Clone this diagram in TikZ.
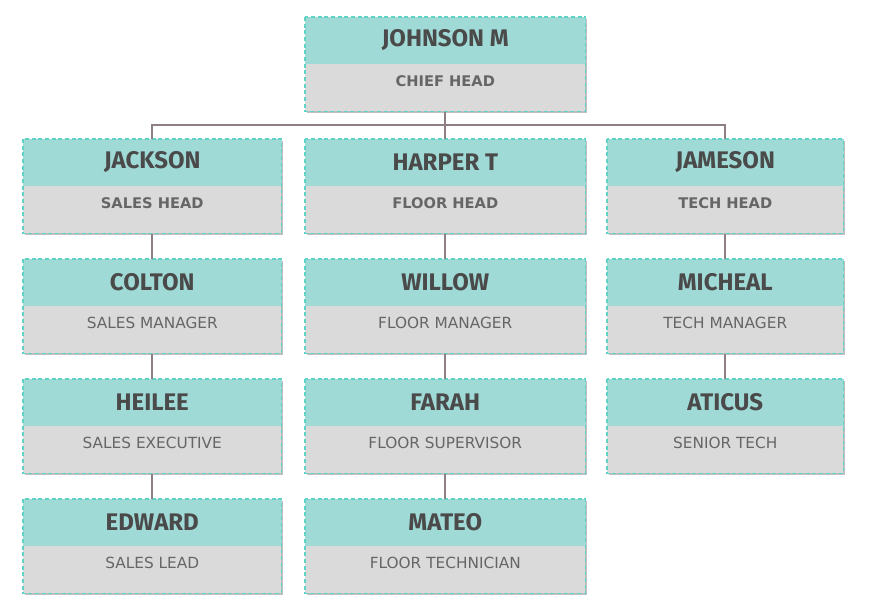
\documentclass[tikz,border=0pt]{standalone}
\usetikzlibrary{shadows,calc}
\usepackage{fontspec}
\setmainfont{Fira Sans}
\newfontfamily\rolefont{DejaVu Sans}
\definecolor{teal1}{HTML}{A0DAD6}
\definecolor{edge}{HTML}{5FD3C6}
\definecolor{grayf}{HTML}{DADADA}
\definecolor{txt}{HTML}{4A4A4A}
\definecolor{rtxt}{HTML}{666666}
\definecolor{conn}{HTML}{8E7F84}
\begin{document}
\begin{tikzpicture}[x=0.75pt,y=-0.75pt,
  box/.style={fill=grayf,inner sep=0pt,anchor=north west,
    drop shadow={shadow xshift=1.5pt,shadow yshift=-1.5pt,opacity=0.5}},
  nm/.style={font=\bfseries\fontsize{18}{20}\selectfont,text=txt},
  rl/.style={font=\rolefont\bfseries\fontsize{11}{13}\selectfont,text=rtxt},
  rn/.style={font=\rolefont\fontsize{11.5}{13}\selectfont,text=rtxt},
  ln/.style={draw=conn,line width=1.2pt}]
\useasboundingbox (0,0) rectangle (869,611);
\newcommand\ob[7]{%
  \node[box,minimum width=#4*0.75pt,minimum height=94*0.75pt] (#1) at (#2,#3) {};
  \fill[teal1] (#1.north west) rectangle ([yshift=-35.25pt]#1.north east);
  \draw[edge,densely dashed,line width=1pt] (#1.north west) rectangle (#1.south east);
  \node[nm] (#1n) at ($(#1.north)+(0,23)$) {#5};
  \node[#7] (#1r) at ($(#1.north)+(0,64)$) {#6};}
\ob{jo}{305}{17}{280}{JOHNSON M}{CHIEF HEAD}{rl}
\ob{ja}{23}{139}{258}{JACKSON}{SALES HEAD}{rl}
\ob{ha}{305}{139}{280}{HARPER T}{FLOOR HEAD}{rl}
\ob{jm}{607}{139}{236}{JAMESON}{TECH HEAD}{rl}
\ob{co}{23}{259}{258}{COLTON}{SALES MANAGER}{rn}
\ob{wi}{305}{259}{280}{WILLOW}{FLOOR MANAGER}{rn}
\ob{mi}{607}{259}{236}{MICHEAL}{TECH MANAGER}{rn}
\ob{he}{23}{379}{258}{HEILEE}{SALES EXECUTIVE}{rn}
\ob{fa}{305}{379}{280}{FARAH}{FLOOR SUPERVISOR}{rn}
\ob{at}{607}{379}{236}{ATICUS}{SENIOR TECH}{rn}
\ob{ed}{23}{499}{258}{EDWARD}{SALES LEAD}{rn}
\ob{ma}{305}{499}{280}{MATEO}{FLOOR TECHNICIAN}{rn}
\coordinate (bar) at (0,125);
\draw[ln] (jo.south) -- (jo.south |- bar);
\draw[ln] (ja.north) |- (jm.north |- bar) -- (jm.north);
\draw[ln] (ha.north) -- (ha.north |- bar);
\foreach \a/\b in {ja/co,co/he,he/ed,ha/wi,wi/fa,fa/ma,jm/mi,mi/at}
  \draw[ln] (\a.south) -- (\b.north);
\end{tikzpicture}
\end{document}
